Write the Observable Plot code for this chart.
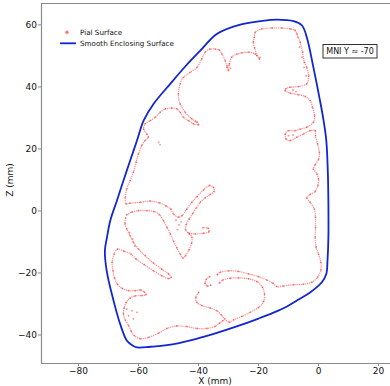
<!DOCTYPE html>
<html><head><meta charset="utf-8">
<script src="https://cdn.jsdelivr.net/npm/d3@7"></script>
<script src="https://cdn.jsdelivr.net/npm/@observablehq/plot@0.6"></script>
<style>
body{margin:0;background:#fff}
#chart{position:relative;width:390px;height:386px;overflow:hidden}
</style>
</head><body><div id="chart"></div>
<script>
// ---- axis settings (mm) ----
const xDomain = [-92.33, 24.0];
const zDomain = [-49.2, 66.9];
const xTicks = [-80, -60, -40, -20, 0, 20];
const zTicks = [-40, -20, 0, 20, 40, 60];

// ---- Smooth enclosing surface (x, z in mm), closed ----
const enclosingSurface = [
  [-13.9,61.7],[-8.3,61.2],[-5.5,59.8],[-3.9,56.0],[-1.7,46.3],[0.5,35.6],[1.7,29.1],[2.6,22.7],
  [3.1,13.0],[3.3,2.3],[3.3,-8.5],[3.0,-16.0],[2.6,-20.3],[1.1,-23.0],[-2.8,-26.3],[-6.5,-28.5],
  [-10.5,-30.8],[-15.0,-32.8],[-20.0,-34.7],[-28.0,-37.5],[-34.4,-39.5],[-41.0,-41.3],[-50.5,-43.3],
  [-56.0,-43.8],[-60.5,-44.0],[-62.0,-43.4],[-63.9,-41.8],[-66.1,-36.5],[-68.3,-29.0],[-70.6,-19.3],
  [-71.2,-12.8],[-70.5,-8.5],[-69.4,-3.1],[-67.2,3.3],[-65.0,9.8],[-62.8,16.2],[-60.5,22.7],
  [-58.3,29.1],[-55.0,34.5],[-49.4,41.0],[-44.5,46.5],[-39.4,51.7],[-33.9,57.1],[-26.1,60.1],[-19.4,61.2]
];

// ---- Pial surface contours (x, z in mm) ----
const pialRightOuter = [
  [-20.5,50.1],[-21.3,52.6],[-21.7,54.4],[-21.4,56.0],[-21.1,57.6],[-18.9,58.7],[-15.5,59.0],[-12.2,59.0],
  [-9.4,58.7],[-7.8,58.2],[-7.2,57.1],[-6.1,54.4],[-5.3,51.2],[-4.7,47.9],[-3.9,46.3],[-3.3,43.6],
  [-3.9,41.0],[-6.7,40.1],[-9.4,39.9],[-10.9,39.4],[-11.1,38.8],[-9.4,38.0],[-6.7,37.5],[-4.4,36.9],
  [-2.8,35.6],[-2.0,33.4],[-1.3,30.7],[-1.7,28.6],[-3.9,27.0],[-6.1,26.4],[-7.8,25.9],[-10.0,25.9],
  [-11.1,24.8],[-10.8,23.2],[-9.4,22.7],[-7.2,23.8],[-5.0,24.8],[-2.8,25.9],[-1.1,25.9],[-1.0,24.3],
  [-0.3,21.6],[0.3,18.9],[0.0,16.6],[-1.1,14.9],[-1.7,13.5],[-0.5,11.9],[0.0,10.3],[-0.2,8.2],
  [-1.1,6.3],[-2.8,5.3],[-3.9,4.2],[-2.8,2.8],[-1.4,0.6],[-1.0,-2.0],[-1.0,-5.3],[-1.1,-8.5],
  [-0.8,-11.7],[0.0,-13.9],[0.8,-16.6],[0.8,-19.0],[-0.3,-21.4],[-2.2,-23.0],[-5.0,-23.6],[-8.3,-23.8],
  [-11.7,-24.2],[-13.9,-24.4],[-15.2,-23.3],[-17.2,-22.3],[-20.0,-21.2],[-23.3,-20.3],[-26.7,-19.5],
  [-30.0,-19.3],[-32.8,-19.8],[-33.7,-20.5]
];
const pialLeftOuter = [
  [-19.7,49.0],[-21.1,50.6],[-23.3,51.2],[-25.5,51.0],[-27.2,50.6],[-28.9,49.6],[-29.7,47.4],[-30.0,45.3],
  [-30.5,46.3],[-31.1,48.5],[-32.2,50.6],[-33.1,51.9],[-34.4,52.2],[-36.1,52.2],[-37.8,51.2],[-38.9,49.0],
  [-40.5,46.3],[-42.8,44.7],[-45.0,43.1],[-46.1,41.0],[-46.7,37.7],[-46.1,34.5],[-44.4,31.8],[-42.2,29.7],
  [-40.5,28.6],[-40.0,27.8],[-41.7,28.1],[-43.3,29.1],[-45.0,30.2],[-46.1,31.8],[-47.2,32.9],[-48.9,33.2],
  [-51.1,32.9],[-52.8,31.8],[-54.4,30.2],[-56.1,29.1],[-57.8,28.1],[-58.3,26.4],[-57.2,24.8],[-56.7,23.8],
  [-57.8,22.7],[-58.9,21.1],[-60.0,18.4],[-60.8,15.7],[-61.7,12.5],[-62.8,9.8],[-63.9,7.1],[-64.4,4.4],
  [-64.1,2.3],[-62.8,2.5],[-59.4,2.8],[-56.1,3.2],[-53.0,2.6],[-50.8,1.6],[-49.2,0.6],[-48.3,-1.0],
  [-46.7,-2.0],[-45.5,-1.5],[-43.9,0.6],[-42.2,2.8],[-40.5,4.6],[-38.3,6.8],[-36.3,8.2],[-35.0,7.6],
  [-34.8,6.3],[-36.1,5.3],[-37.8,4.2],[-39.4,2.8],[-40.7,1.0],[-41.9,-0.8],[-43.1,-2.6],[-44.1,-4.4],
  [-44.3,-6.1],[-43.3,-7.1],[-41.1,-7.4],[-38.3,-7.2],[-36.5,-6.7],[-36.8,-5.6],[-38.5,-5.4]
];
const pialMidBand = [
  [-63.9,-1.2],[-62.2,-0.4],[-60.0,0.1],[-57.2,0.1],[-54.8,-0.2],[-53.0,-1.2],[-51.7,-3.1],[-50.5,-5.3],
  [-49.4,-7.4],[-48.3,-9.8],[-47.2,-11.9],[-46.1,-13.9],[-45.2,-15.2],[-44.3,-14.4],[-43.2,-12.6],
  [-42.3,-10.4],[-42.2,-8.5],[-43.0,-7.4]
];
const pialLowerLeft = [
  [-64.3,-2.3],[-64.5,-4.0],[-63.9,-5.8],[-62.8,-8.0],[-61.7,-10.1],[-60.0,-12.3],[-57.8,-14.4],[-55.0,-16.8],
  [-52.2,-18.8],[-50.0,-20.3],[-49.1,-21.4],[-50.0,-21.8],[-52.2,-20.9],[-55.0,-19.3],[-58.1,-17.3],
  [-60.8,-15.5],[-62.5,-13.9],[-64.8,-13.0],[-67.0,-12.3],[-68.1,-13.9],[-68.8,-16.6],[-68.5,-19.3],
  [-68.0,-21.6],[-67.0,-23.6],[-65.4,-25.0],[-63.3,-25.7],[-61.1,-25.7],[-59.4,-25.5],[-58.1,-26.1],
  [-57.5,-27.0],[-58.9,-27.3],[-61.1,-27.4],[-62.8,-28.1],[-64.1,-29.5],[-64.8,-31.3],[-65.0,-33.2],
  [-64.4,-35.2],[-63.3,-37.0],[-62.4,-38.8],[-61.4,-40.2],[-59.4,-41.2],[-56.7,-40.8],[-53.3,-39.4],
  [-50.5,-37.9],[-47.2,-37.1],[-43.9,-37.3],[-40.5,-37.9],[-37.2,-37.9],[-34.4,-37.2],[-33.0,-36.2],[-31.9,-35.4]
];
const pialBottomInner = [
  [-40.0,-26.3],[-40.9,-27.9],[-40.5,-29.5],[-38.9,-30.5],[-36.1,-31.3],[-33.9,-32.2],[-32.4,-33.5],
  [-31.3,-34.8],[-29.7,-35.9],[-28.3,-35.1],[-25.5,-34.0],[-22.8,-32.7],[-20.0,-31.1],[-18.3,-29.2],
  [-18.0,-26.8],[-18.7,-24.6],[-20.5,-22.8],[-23.3,-21.9],[-26.7,-21.6],[-29.4,-21.7],[-31.9,-22.3],[-33.0,-23.2]
];
const pialCurl = [[-36.3,-21.2],[-37.4,-22.1],[-37.8,-23.3],[-37.0,-24.2],[-35.9,-23.9]];
const pialScatter = [
  [-53.3,22.1],[-52.8,21.4],[-63.9,-31.6],[-62.2,-32.2],[-60.5,-32.7],[-63.3,-33.8],[-61.7,-34.8],
  [-47.5,-3.0],[-46.5,-4.5],[-45.8,-3.5],[-47.0,-6.0],[-6.9,56.0],[-6.3,52.8],[-5.5,49.6],[-4.8,46.3],
  [-4.1,43.6],[-8.5,39.0],[-7.5,38.5],[-10.0,24.3],[-8.5,24.5],[-63.0,-7.0],[-62.0,-9.0],[-61.2,-11.3],
  [-30.2,46.8],[-29.3,46.0],[-19.5,49.5],[-41.0,28.9]
];

// ---- labels ----
const xLabel = "X (mm)";
const zLabel = "Z (mm)";
const legendLabels = ["Pial Surface", "Smooth Enclosing Surface"];
const annotation = "MNI Y \u2248 -70";

const pialColor = "#ff1a1a";
const blue = "#1226d0";

const segments = [
  ["rightOuter", pialRightOuter], ["leftOuter", pialLeftOuter], ["midBand", pialMidBand],
  ["lowerLeft", pialLowerLeft], ["bottomInner", pialBottomInner], ["curl", pialCurl]
];
const pialLines = segments.flatMap(([id, pts]) => pts.map(([x, z]) => ({id, x, z})));
const pialDots = pialLines.concat(pialScatter.map(([x, z]) => ({id: "scatter", x, z})));
const enclosing = enclosingSurface.map(([x, z]) => ({x, z}));

const plot = Plot.plot({
  width: 390, height: 386,
  marginLeft: 41, marginRight: 0, marginTop: 3, marginBottom: 23,
  x: {domain: xDomain, label: null},
  y: {domain: zDomain, label: null},
  style: {fontFamily: "'DejaVu Sans', sans-serif", fontSize: "9px", background: "#fff", color: "#111"},
  marks: [
    Plot.line(pialLines, {x: "x", y: "z", z: "id", stroke: pialColor, strokeWidth: 1.4, strokeOpacity: 0.48,
      strokeDasharray: "0.1 2", strokeLinecap: "round", curve: "catmull-rom"}),
    Plot.dot(pialDots, {x: "x", y: "z", r: 0.9, fill: pialColor, fillOpacity: 0.5, stroke: "none"}),
    Plot.line(enclosing, {x: "x", y: "z", stroke: blue, strokeWidth: 1.8, curve: "catmull-rom-closed"}),
    Plot.ruleX([xDomain[0]], {stroke: "#8a8a8a", strokeWidth: 1.2}),
    Plot.ruleY([zDomain[0]], {stroke: "#8a8a8a", strokeWidth: 1.2}),
    Plot.ruleY([zDomain[1]], {stroke: "#8a8a8a", strokeWidth: 1.2}),
    Plot.axisX({ticks: xTicks, tickSize: 3, tickPadding: 1, stroke: "#8a8a8a", fill: "#111", label: null}),
    Plot.axisY({ticks: zTicks, tickSize: 3, tickPadding: 1.5, stroke: "#8a8a8a", fill: "#111", label: null})
  ]
});
document.getElementById("chart").appendChild(plot);

const svg = d3.select(plot);
const font = "'DejaVu Sans', sans-serif";
// axis titles
svg.append("text").attr("x", 215).attr("y", 383.5).attr("text-anchor", "middle")
  .attr("font-family", font).attr("font-size", 9).attr("fill", "#111").text(xLabel);
svg.append("text").attr("transform", "translate(13,180) rotate(-90)").attr("text-anchor", "middle")
  .attr("font-family", font).attr("font-size", 9).attr("fill", "#111").text(zLabel);
// legend
const lg = svg.append("g").attr("font-family", font).attr("font-size", 7.2).attr("fill", "#111")
  .attr("text-anchor", "start");
lg.append("circle").attr("cx", 67).attr("cy", 32.3).attr("r", 1.7).attr("fill", "#f37b7b").attr("stroke", "none");
lg.append("text").attr("x", 80).attr("y", 32.3).attr("dy", "0.35em").attr("text-anchor", "start").text(legendLabels[0]);
lg.append("line").attr("x1", 60).attr("x2", 76).attr("y1", 43.3).attr("y2", 43.3)
  .attr("stroke", blue).attr("stroke-width", 1.8);
lg.append("text").attr("x", 80).attr("y", 43.3).attr("dy", "0.35em").attr("text-anchor", "start").text(legendLabels[1]);
// annotation box
const ab = svg.append("g");
ab.append("rect").attr("x", 323).attr("y", 44.5).attr("width", 54).attr("height", 13.5)
  .attr("fill", "#fff").attr("stroke", "#333").attr("stroke-width", 1);
ab.append("text").attr("x", 350).attr("y", 51.3).attr("dy", "0.35em").attr("text-anchor", "middle")
  .attr("font-family", font).attr("font-size", 8).attr("fill", "#111").text(annotation);
</script>
</body></html>
